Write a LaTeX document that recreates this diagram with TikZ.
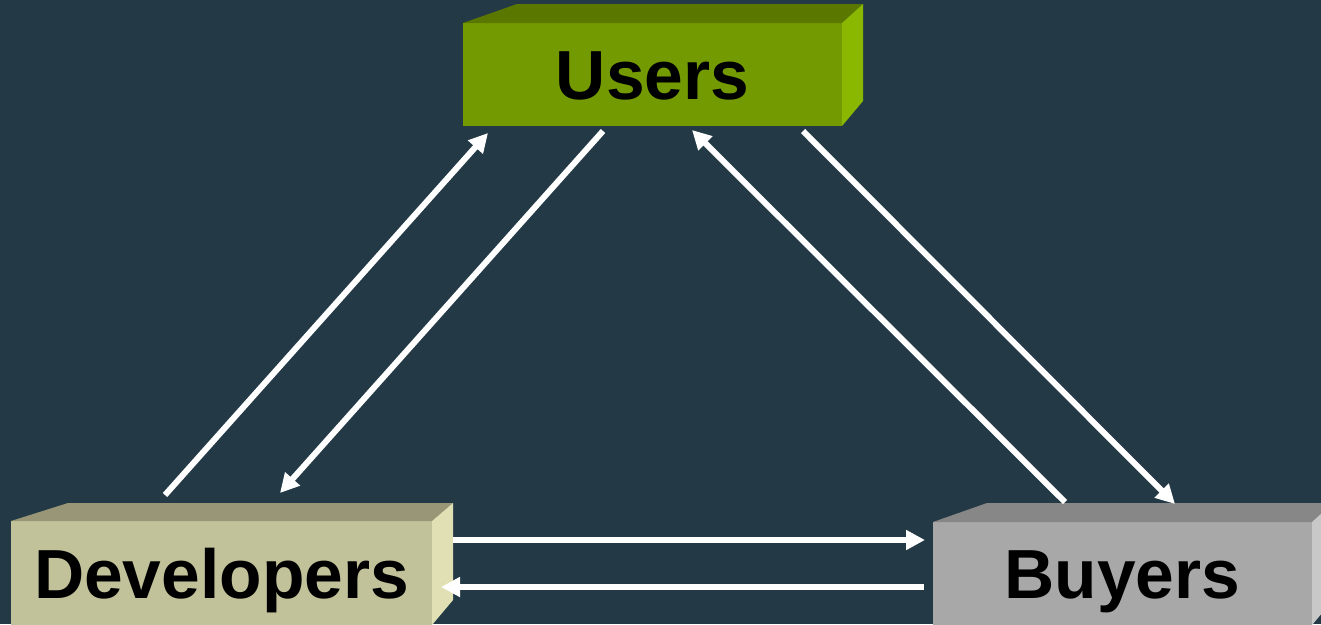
\documentclass[tikz,border=0pt]{standalone}
\usepackage{fontspec}
\setmainfont{Liberation Sans}
\usetikzlibrary{arrows.meta,calc}

\definecolor{bg}{RGB}{35,58,70}
\definecolor{usrfront}{RGB}{115,154,0}
\definecolor{usrtop}{RGB}{90,120,0}
\definecolor{usrside}{RGB}{138,184,0}
\definecolor{devfront}{RGB}{194,194,154}
\definecolor{devtop}{RGB}{152,150,118}
\definecolor{devside}{RGB}{224,224,180}
\definecolor{buyfront}{RGB}{168,168,168}
\definecolor{buytop}{RGB}{135,135,135}
\definecolor{buyside}{RGB}{200,200,200}

\tikzset{
  face/.style={anchor=north west, outer sep=0pt, inner sep=0pt,
    text height=50pt, text depth=0pt,
    font=\fontsize{69.5}{80}\selectfont\bfseries, text=black},
  flow/.style={draw=white, line width=6pt,
    -{Triangle[length=19pt,width=19pt]}}
}

\begin{document}
\begin{tikzpicture}[x=1pt,y=-1pt]
  \fill[bg] (0,0) rectangle (1321,624);
  \useasboundingbox (0,0) rectangle (1321,624);

  % Users block
  \node[face, fill=usrfront, minimum width=379pt, minimum height=103pt]
    (users) at (463,23) {Users};
  \fill[usrtop] (users.north west) -- (517,4) -- (863,4) -- (users.north east) -- cycle;
  \fill[usrside] (users.north east) -- (863,4) -- (863,101) -- (users.south east) -- cycle;

  % Developers block
  \node[face, fill=devfront, minimum width=421pt, minimum height=104pt]
    (dev) at (11,521) {Developers};
  \fill[devtop] (dev.north west) -- (68,503) -- (453,503) -- (dev.north east) -- cycle;
  \fill[devside] (dev.north east) -- (453,503) -- (453,600) -- (dev.south east) -- cycle;

  % Buyers block
  \node[face, fill=buyfront, minimum width=379pt, minimum height=103pt]
    (buy) at (933,522) {Buyers};
  \fill[buytop] (buy.north west) -- (987,503) -- (1340,503) -- (buy.north east) -- cycle;
  \fill[buyside] (buy.north east) -- (1333,503) -- (1333,600) -- (buy.south east) -- cycle;

  % Flows between the three parties
  \draw[flow] ($(dev.north west)+(154,-26)$) -- ($(users.south west)+(25,7)$);
  \draw[flow] ($(users.south west)+(140,5)$) -- ($(dev.north west)+(269,-28)$);
  \draw[flow] ($(buy.north west)+(132,-20)$) -- ($(users.south west)+(229,4)$);
  \draw[flow] ($(users.south west)+(340,5)$) -- ($(buy.north west)+(242,-18)$);
  \draw[flow] ($(dev.north east)+(21,19)$) -- ($(buy.north west)+(-8,18)$);
  \draw[flow] ($(buy.north west)+(-9,65)$) -- ($(dev.north east)+(9,66)$);
\end{tikzpicture}
\end{document}
